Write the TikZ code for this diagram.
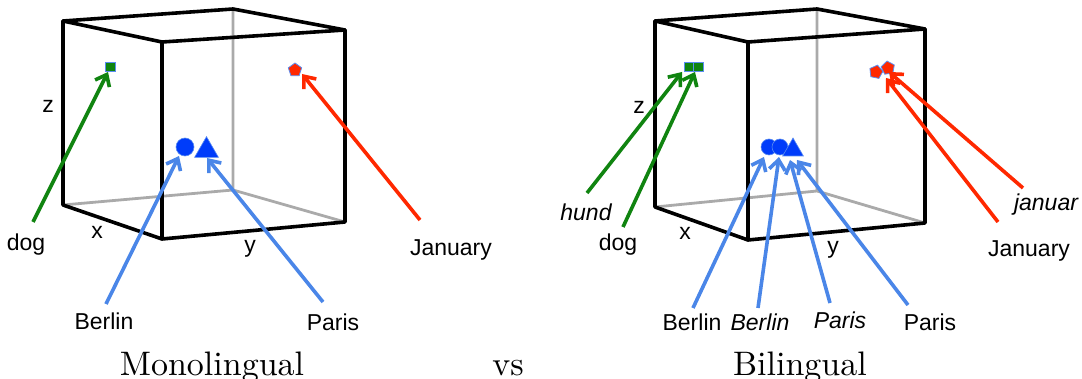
\documentclass[tikz,border=0pt]{standalone}
\usepackage{fontspec}
\newfontfamily\capfont{lmroman10-regular.otf}
\newfontfamily\arial{Liberation Sans}
\usetikzlibrary{arrows.meta,shapes.geometric}
\definecolor{ggreen}{RGB}{16,132,16}
\definecolor{gblue}{RGB}{74,134,232}
\definecolor{gred}{RGB}{255,40,0}
\definecolor{mblue}{RGB}{0,60,250}
\definecolor{oblue}{RGB}{90,140,240}
\definecolor{ggray}{RGB}{170,170,170}
\tikzset{
  edge/.style={line width=3.6pt, black, line join=round, line cap=round},
  hidden/.style={line width=2.8pt, ggray, line cap=round},
  lbl/.style={font=\arial\fontsize{23}{23}\selectfont, inner sep=0pt, anchor=base},
  ilbl/.style={lbl, font=\arial\itshape\fontsize{23}{23}\selectfont},
  axis/.style={lbl},
  captxt/.style={font=\capfont\fontsize{34}{34}\selectfont, inner sep=0pt, anchor=base},
  arr/.style={line width=3.6pt, -{Straight Barb[length=10pt,width=16pt,line width=3.6pt]}},
  garr/.style={arr, ggreen},
  barr/.style={arr, gblue},
  rarr/.style={arr, gred},
  sq/.style={rectangle, fill=ggreen, draw=oblue, line width=0.8pt, minimum size=9.5pt, inner sep=0pt},
  pent/.style={regular polygon, regular polygon sides=5, fill=gred, draw=oblue, line width=0.8pt, minimum size=14pt, inner sep=0pt},
  circ/.style={circle, fill=mblue, draw=oblue, line width=0.6pt, inner sep=0pt},
  tri/.style={regular polygon, regular polygon sides=3, fill=mblue, draw=oblue, line width=0.6pt, inner sep=0pt},
}
\begin{document}
\begin{tikzpicture}[x=1pt,y=-1pt]
\useasboundingbox (0,0) rectangle (1082,379);
% ---------- left cube ----------
\coordinate (LA) at (63,21);   \coordinate (LB) at (233,9);
\coordinate (LC) at (345,30);  \coordinate (LD) at (162,42);
\coordinate (LE) at (63,205);  \coordinate (LF) at (233,190);
\coordinate (LG) at (345,222); \coordinate (LH) at (162,239);
\draw[hidden] (LB) -- (LF) (LE) -- (LF) -- (LG);
\draw[edge] (LA) -- (LB) -- (LC) -- (LD) -- cycle;
\draw[edge] (LA) -- (LE) -- (LH);
\draw[edge] (LD) -- (LH) -- (LG) -- (LC);
\node[axis] (lz) at (48,113) {z};
\node[axis] (lx) at (97,239) {x};
\node[axis] (ly) at (250,253) {y};
% markers
\node[sq] (ldog) at (110.5,67) {};
\node[pent] (ljan) at (295,70) {};
\node[circ, minimum size=18pt] (lber) at (185,147) {};
\node[tri, minimum size=27.7pt] (lpar) at (206.5,150.5) {};
% labels
\node[lbl] (tdog) at (26,251) {dog};
\node[lbl] (tber) at (104,330) {Berlin};
\node[lbl] (tpar) at (333,331) {Paris};
\node[lbl] (tjan) at (451,256) {January};
% arrows
\coordinate (s1) at (33,222);  \coordinate (e1) at (108,72);
\coordinate (s2) at (106,304); \coordinate (e2) at (179,156);
\coordinate (s3) at (323,302); \coordinate (e3) at (207,158);
\coordinate (s4) at (420,220); \coordinate (e4) at (302,74);
\draw[garr] (s1) -- (e1);
\draw[barr] (s2) -- (e2);
\draw[barr] (s3) -- (e3);
\draw[rarr] (s4) -- (e4);
% ---------- right cube ----------
\coordinate (RA) at (655,21);  \coordinate (RB) at (817,9);
\coordinate (RC) at (925,29);  \coordinate (RD) at (748,42);
\coordinate (RE) at (655,207); \coordinate (RF) at (817,191);
\coordinate (RG) at (925,223); \coordinate (RH) at (748,240);
\draw[hidden] (RB) -- (RF) (RE) -- (RF) -- (RG);
\draw[edge] (RA) -- (RB) -- (RC) -- (RD) -- cycle;
\draw[edge] (RA) -- (RE) -- (RH);
\draw[edge] (RD) -- (RH) -- (RG) -- (RC);
\node[axis] (rz) at (639,114) {z};
\node[axis] (rx) at (685,240) {x};
\node[axis] (ry) at (833,254) {y};
% markers
\node[sq] (rdog) at (689,67) {};
\node[sq] (rhund) at (698.5,67) {};
\node[pent, rotate=-12] (rjan) at (876,72) {};
\node[pent, rotate=8] (rjanuar) at (888,68) {};
\node[circ, minimum size=16pt] (rber) at (769,147) {};
\node[circ, minimum size=16pt] (rberi) at (780,147) {};
\node[tri, minimum size=24pt] (rpar) at (793,150) {};
% labels
\node[ilbl] (thund) at (586,221) {hund};
\node[lbl] (tdog2) at (618,251) {dog};
\node[lbl] (tber2) at (692,331) {Berlin};
\node[ilbl] (tberi) at (760,331) {Berlin};
\node[ilbl] (tpari) at (840,329) {Paris};
\node[lbl] (tpar2) at (930,331) {Paris};
\node[ilbl] (tjanuar) at (1046,211) {januar};
\node[lbl] (tjan2) at (1029,257) {January};
% arrows
\coordinate (r1s) at (587,193); \coordinate (r1e) at (682,72);
\coordinate (r2s) at (623,227); \coordinate (r2e) at (695,72);
\coordinate (r3s) at (693,308); \coordinate (r3e) at (764,157);
\coordinate (r4s) at (758,308); \coordinate (r4e) at (779,157);
\coordinate (r5s) at (830,303); \coordinate (r5e) at (790,160);
\coordinate (r6s) at (908,305); \coordinate (r6e) at (797,160);
\coordinate (r7s) at (1023,188); \coordinate (r7e) at (889,72);
\coordinate (r8s) at (998,222); \coordinate (r8e) at (886,78);
\draw[garr] (r1s) -- (r1e);
\draw[garr] (r2s) -- (r2e);
\draw[barr] (r3s) -- (r3e);
\draw[barr] (r4s) -- (r4e);
\draw[barr] (r5s) -- (r5e);
\draw[barr] (r6s) -- (r6e);
\draw[rarr] (r7s) -- (r7e);
\draw[rarr] (r8s) -- (r8e);
% ---------- captions ----------
\node[captxt] (cmono) at (212,375) {Monolingual};
\node[captxt] (cvs) at (508,375) {vs};
\node[captxt] (cbi) at (800,375) {Bilingual};
\end{tikzpicture}
\end{document}
